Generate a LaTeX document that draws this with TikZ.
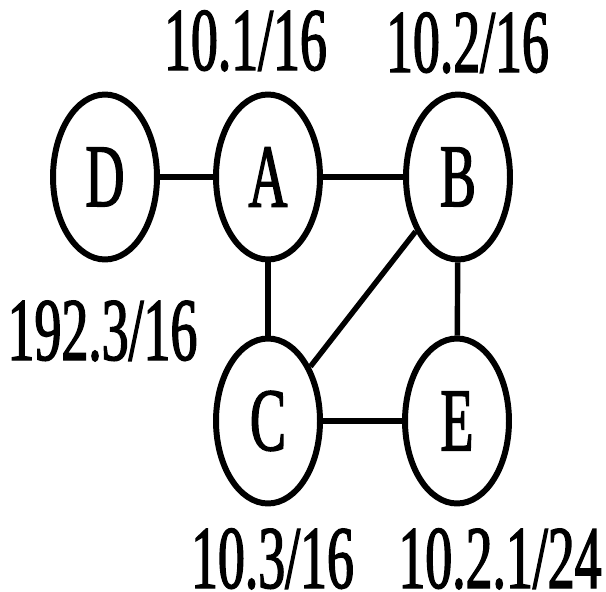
\documentclass[tikz,border=0pt]{standalone}
\usepackage{fontspec}
\usetikzlibrary{shapes.geometric, positioning}
\newfontfamily\netfont[FakeStretch=0.6, FakeBold=1.5]{Liberation Serif}
\tikzset{
  router/.style={ellipse, draw=black, line width=3.4pt, fill=white,
                 minimum width=2.08cm, minimum height=3.3cm, inner sep=0pt,
                 font=\netfont\fontsize{51}{51}\selectfont},
  link/.style={line width=3.1pt},
  addrlabel/.style={anchor=base, inner sep=0pt,
                 font=\netfont\fontsize{51}{51}\selectfont},
}
\begin{document}
\begin{tikzpicture}[x=0.02cm, y=-0.02cm]
    \useasboundingbox (0,0) rectangle (606,592);
    % routers
    \node[router] (D) at (105,177) {D};
    \node[router] (A) at (268,177) {A};
    \node[router] (B) at (458,177) {B};
    \node[router] (C) at (268,421) {C};
    \node[router] (E) at (457,421) {E};
    % links
    \draw[link] (D) -- (A);
    \draw[link] (A) -- (B);
    \draw[link] (A) -- (C);
    \draw[link] (B) -- (E);
    \draw[link] (B) -- (C);
    \draw[link] (C) -- (E);
    % address prefixes
    \node[addrlabel] (pA) at (245.5,70) {10.1/16};
    \node[addrlabel] (pB) at (467.5,72) {10.2/16};
    \node[addrlabel] (pD) at (102.5,360) {192.3/16};
    \node[addrlabel] (pC) at (272.5,588) {10.3/16};
    \node[addrlabel] (pE) at (500,588) {10.2.1/24};
\end{tikzpicture}
\end{document}
